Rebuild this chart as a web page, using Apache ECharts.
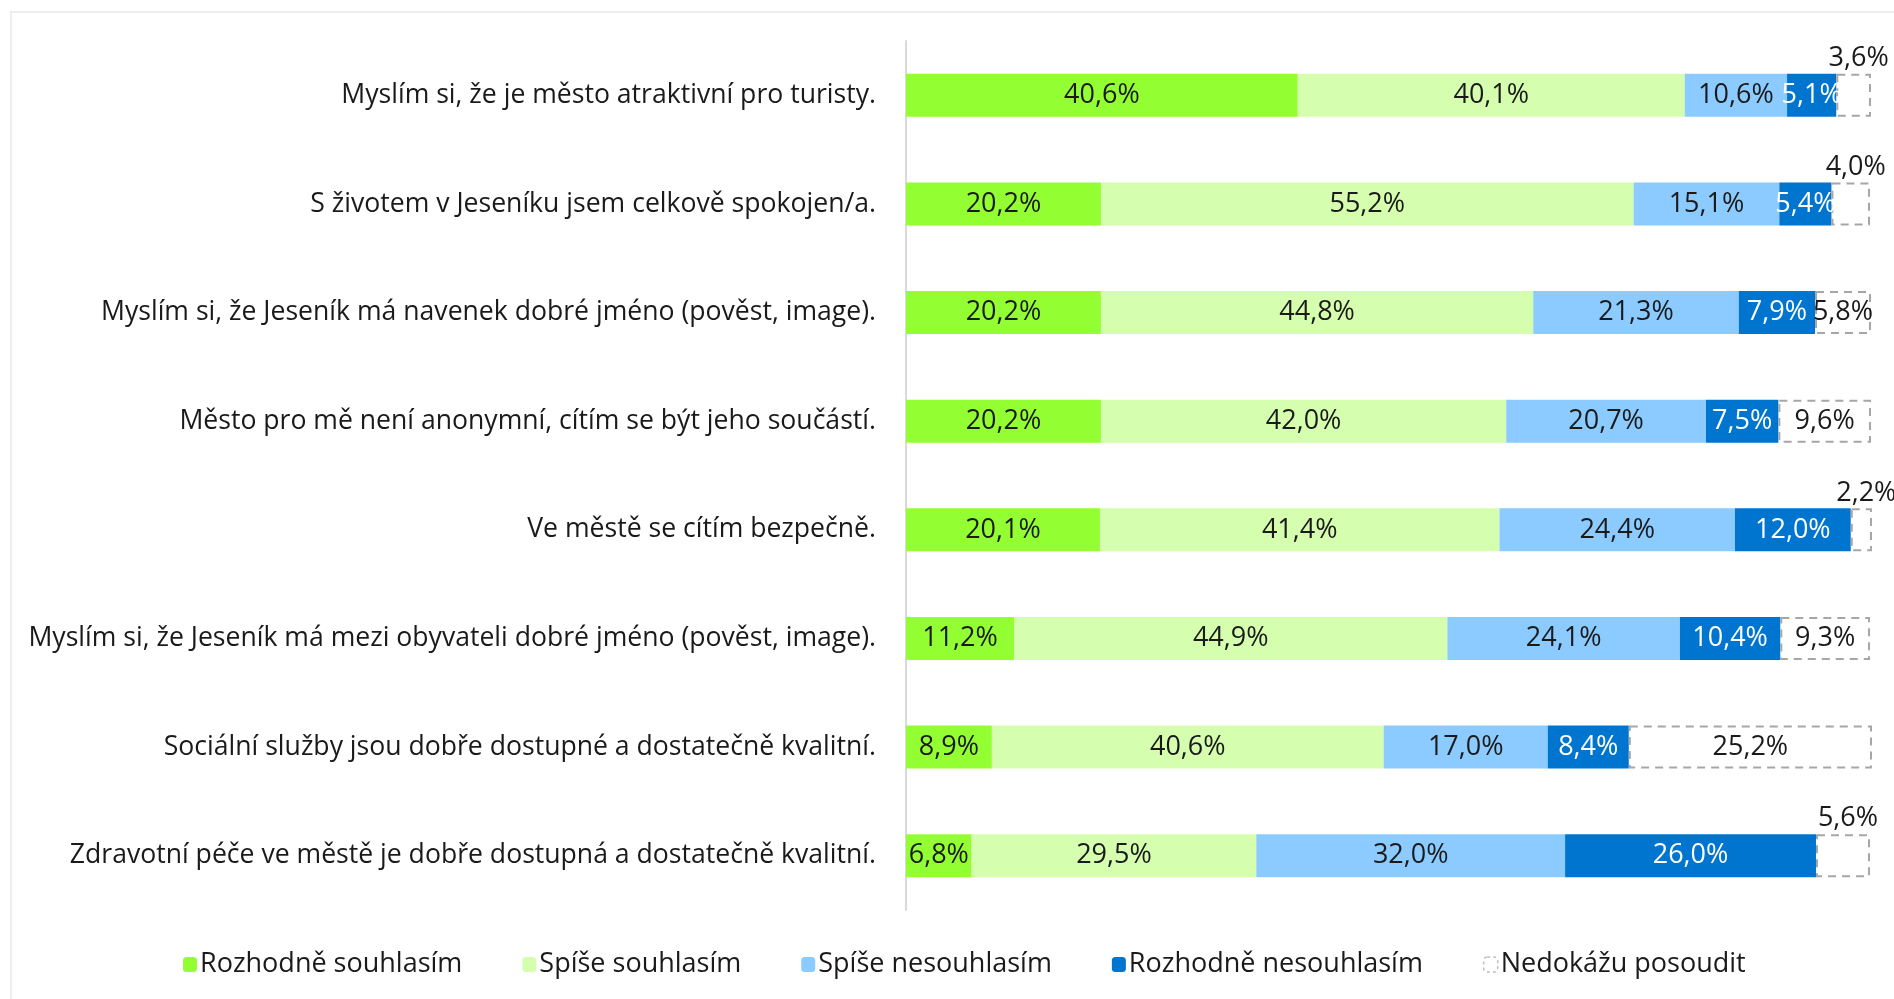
<!DOCTYPE html>
<html>
<head>
<meta charset="utf-8">
<script src="https://cdn.jsdelivr.net/npm/echarts@6/dist/echarts.min.js"></script>
<style>
  html, body { margin: 0; padding: 0; background: #fff; }
  #frame { position: absolute; left: 10px; top: 11px; width: 1900px; height: 1000px; border: 2px solid #eeeeee; box-sizing: border-box; }
  #chart { position: absolute; left: 0; top: 0; width: 1894px; height: 999px; }
</style>
</head>
<body>
<div id="frame"></div>
<div id="chart"></div>
<script>
const categories = [
  'Myslím si, že je město atraktivní pro turisty.',
  'S životem v Jeseníku jsem celkově spokojen/a.',
  'Myslím si, že Jeseník má navenek dobré jméno (pověst, image).',
  'Město pro mě není anonymní, cítím se být jeho součástí.',
  'Ve městě se cítím bezpečně.',
  'Myslím si, že Jeseník má mezi obyvateli dobré jméno (pověst, image).',
  'Sociální služby jsou dobře dostupné a dostatečně kvalitní.',
  'Zdravotní péče ve městě je dobře dostupná a dostatečně kvalitní.'
];
const rozhodneSouhlasim = [40.6, 20.2, 20.2, 20.2, 20.1, 11.2, 8.9, 6.8];
const spiseSouhlasim = [40.1, 55.2, 44.8, 42.0, 41.4, 44.9, 40.6, 29.5];
const spiseNesouhlasim = [10.6, 15.1, 21.3, 20.7, 24.4, 24.1, 17.0, 32.0];
const rozhodneNesouhlasim = [5.1, 5.4, 7.9, 7.5, 12.0, 10.4, 8.4, 26.0];
const nedokazuPosoudit = [3.6, 4.0, 5.8, 9.6, 2.2, 9.3, 25.2, 5.6];

const FONT = '"Open Sans", "Noto Sans", sans-serif';
const fmt = p => p.value.toFixed(1).replace('.', ',') + '%';

function solid(name, data, color, textColor) {
  return {
    name: name, type: 'bar', stack: 'total', data: data, barWidth: 43,
    itemStyle: { color: color },
    label: { show: true, position: 'inside', formatter: fmt, color: textColor, fontSize: 27, fontFamily: FONT, padding: [4, 0, 0, 0] },
    emphasis: { disabled: true }
  };
}

const chart = echarts.init(document.getElementById('chart'), null, { renderer: 'canvas' });
chart.setOption({
  animation: false,
  textStyle: { fontFamily: FONT },
  grid: { left: 906, right: 23, top: 41, bottom: 89 },
  xAxis: { type: 'value', min: 0, max: 100, show: false },
  yAxis: {
    type: 'category', data: categories, inverse: true,
    axisLine: { show: true, lineStyle: { color: '#d9d9d9', width: 2 } },
    axisTick: { show: false },
    axisLabel: { color: '#1a1a1a', fontSize: 26.6, fontFamily: FONT, margin: 30, padding: [4, 0, 0, 0] }
  },
  legend: {
    bottom: 16, left: 178, itemWidth: 14, itemHeight: 15, itemGap: 60,
    textStyle: { fontSize: 27, fontFamily: FONT, color: '#1a1a1a', padding: [0, 0, 0, -2] },
    data: [
      { name: 'Rozhodně souhlasím' },
      { name: 'Spíše souhlasím' },
      { name: 'Spíše nesouhlasím' },
      { name: 'Rozhodně nesouhlasím' },
      { name: 'Nedokážu posoudit', itemStyle: { color: '#fff', borderColor: '#bfbfbf', borderWidth: 1.5, borderType: [3, 3] } }
    ]
  },
  series: [
    solid('Rozhodně souhlasím', rozhodneSouhlasim, '#93ff33', '#1a1a1a'),
    solid('Spíše souhlasím', spiseSouhlasim, '#d5ffae', '#1a1a1a'),
    solid('Spíše nesouhlasím', spiseNesouhlasim, '#8ccbff', '#1a1a1a'),
    solid('Rozhodně nesouhlasím', rozhodneNesouhlasim, '#0075d0', '#ffffff'),
    {
      name: 'Nedokážu posoudit', type: 'bar', stack: 'total', barWidth: 43,
      data: nedokazuPosoudit.map(v => ({
        value: v,
        label: v < 5.7 ? { position: 'top', distance: 2, offset: [5, 0] } : { position: 'inside' }
      })),
      itemStyle: { color: '#ffffff', borderColor: '#a6a6a6', borderWidth: 2, borderType: [8, 6] },
      label: { show: true, formatter: fmt, color: '#1a1a1a', fontSize: 27, fontFamily: FONT },
      emphasis: { disabled: true }
    }
  ]
});
</script>
</body>
</html>
